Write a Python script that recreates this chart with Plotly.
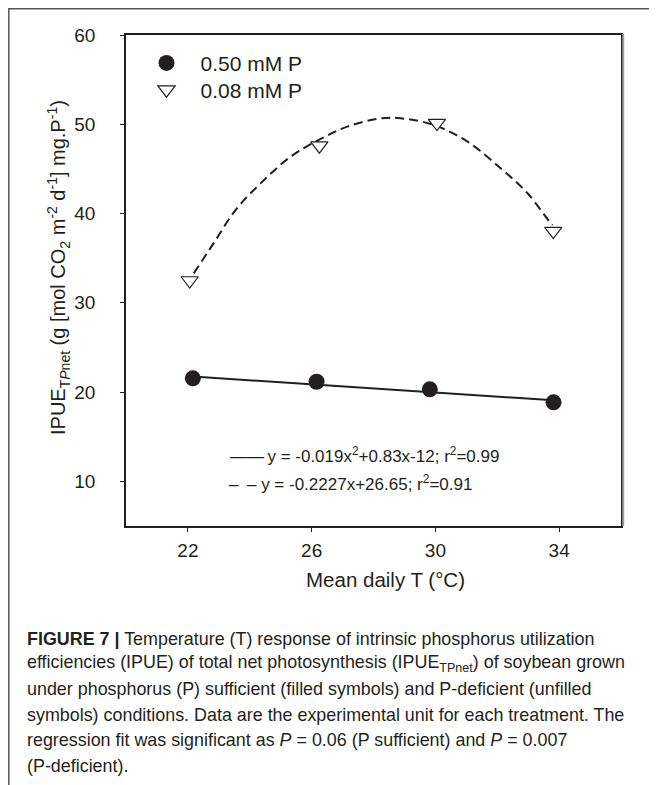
import plotly.graph_objects as go

# ---- data ----
temp_p050 = [22.16, 26.16, 29.82, 33.82]
ipue_p050 = [21.54, 21.16, 20.31, 18.85]

temp_p008 = [22.06, 26.25, 30.05, 33.81]
ipue_p008 = [32.5, 47.6, 50.13, 38.03]

# regression curves as drawn in the figure
fit_p050_x = [22.16, 33.82]
fit_p050_y = [21.75, 19.08]
fit_p008_x = [22.19, 22.83, 23.54, 24.35, 25.32, 26.23, 27.15, 28.23, 28.88,
              29.95, 31.04, 32.11, 32.98, 33.73, 33.79]
fit_p008_y = [33.30, 36.66, 40.39, 43.38, 46.37, 48.24, 49.73, 50.67, 50.67,
              49.92, 48.05, 45.07, 42.27, 38.91, 38.72]

x_ticks = [22, 26, 30, 34]
y_ticks = [10, 20, 30, 40, 50, 60]
series_names = ["0.50 mM P", "0.08 mM P"]

eq_solid = "y = -0.019x<sup>2</sup>+0.83x-12; r<sup>2</sup>=0.99"
eq_dash = "y = -0.2227x+26.65; r<sup>2</sup>=0.91"

x_title = "Mean daily T (°C)"
y_title = ("IPUE<sub>T<i>P</i>net</sub> (g [mol CO<sub>2</sub> m<sup>-2</sup> "
           "d<sup>-1</sup>] mg.P<sup>-1</sup>)")

caption_lines = [
    "<b>FIGURE 7 |</b> Temperature (T) response of intrinsic phosphorus utilization",
    "efficiencies (IPUE) of total net photosynthesis (IPUE<sub>TPnet</sub>) of soybean grown",
    "under phosphorus (P) sufficient (filled symbols) and P-deficient (unfilled",
    "symbols) conditions. Data are the experimental unit for each treatment. The",
    "regression fit was significant as <i>P</i> = 0.06 (P sufficient) and <i>P</i> = 0.007",
    "(P-deficient).",
]

# ---- layout geometry (pixels) ----
OFF = 8                      # page body margin
W, H = 657 - OFF, 785 - OFF
L, T = 126 - OFF, 35 - OFF
R = W - (621 - OFF)
B = H - (526 - OFF)
PW, PH = W - L - R, H - T - B


def px(xw):
    """window x pixel -> paper coordinate"""
    return (xw - OFF - L) / PW


def py(yw):
    """window y pixel -> paper coordinate"""
    return (H - B - (yw - OFF)) / PH


FONT = "Liberation Sans, Arial, Helvetica, sans-serif"
INK = "#231f20"

fig = go.Figure()

fig.add_trace(go.Scatter(
    x=fit_p050_x, y=fit_p050_y, mode="lines", showlegend=False,
    line=dict(color=INK, width=2), hoverinfo="skip"))
fig.add_trace(go.Scatter(
    x=fit_p008_x, y=fit_p008_y, mode="lines", showlegend=False,
    line=dict(color=INK, width=2, dash="9px,5px", shape="spline", smoothing=1.0),
    hoverinfo="skip"))

fig.add_trace(go.Scatter(
    x=temp_p050, y=ipue_p050, mode="markers", name=series_names[0], legend="legend",
    marker=dict(symbol="circle", size=16, color=INK, line=dict(width=0))))
fig.add_trace(go.Scatter(
    x=temp_p008, y=ipue_p008, mode="markers", name=series_names[1], legend="legend2",
    marker=dict(symbol="triangle-down", size=15, color="white",
                line=dict(color=INK, width=1.2))))

axis_common = dict(
    showgrid=False, zeroline=False, showline=True, linecolor=INK, linewidth=1.8,
    mirror=True, ticks="outside", ticklen=4, tickwidth=1.2, tickcolor=INK,
    tickfont=dict(family=FONT, size=19, color=INK),
)

fig.update_xaxes(range=[20, 36], tickvals=x_ticks, ticklabelstandoff=2, **axis_common)
fig.update_yaxes(range=[5, 60], tickvals=y_ticks, ticklabelstandoff=21, **axis_common)

annotations = [
    dict(text=x_title, x=px(385), y=py(579), xref="paper", yref="paper",
         showarrow=False, font=dict(family=FONT, size=20.5, color=INK),
         xanchor="center", yanchor="middle"),
    dict(text=y_title, x=px(58), y=py(268), xref="paper", yref="paper",
         showarrow=False, textangle=-90, font=dict(family=FONT, size=20, color=INK),
         xanchor="center", yanchor="middle"),
    dict(text="\u2014\u2014\u2009" + eq_solid, x=px(228), y=py(455), xref="paper", yref="paper",
         showarrow=False, font=dict(family=FONT, size=17, color=INK),
         xanchor="left", yanchor="middle"),
    dict(text="\u2013\u2002\u2013 " + eq_dash, x=px(227), y=py(483), xref="paper", yref="paper",
         showarrow=False, font=dict(family=FONT, size=17, color=INK),
         xanchor="left", yanchor="middle"),
]

cap_y0, cap_dy = 638.5, 25.4
for i, line in enumerate(caption_lines):
    annotations.append(dict(
        text=line, x=px(25), y=py(cap_y0 + i * cap_dy), xref="paper", yref="paper",
        showarrow=False, font=dict(family=FONT, size=17.9, color=INK),
        xanchor="left", yanchor="middle", align="left"))

shapes = [
    # outer figure frame (continues past the right and bottom edges)
    dict(type="rect", xref="paper", yref="paper",
         x0=px(8.8), x1=px(720), y0=py(840), y1=py(8.8),
         line=dict(color="#555555", width=1.5), fillcolor="rgba(0,0,0,0)", layer="below"),
    # grey drop shadow along the right side of the plot frame
    dict(type="line", xref="paper", yref="paper", xsizemode="pixel", xanchor=1,
         x0=2.2, x1=2.2, y0=py(526), y1=py(34),
         line=dict(color="#9a9a9a", width=2)),
]

legend_common = dict(
    xanchor="left", yanchor="middle",
    font=dict(family=FONT, size=21, color=INK),
    bgcolor="rgba(0,0,0,0)", borderwidth=0, itemwidth=58, tracegroupgap=0,
)

fig.update_layout(
    width=W, height=H,
    margin=dict(l=L, r=R, t=T, b=B, pad=0),
    paper_bgcolor="white", plot_bgcolor="white",
    showlegend=True,
    legend=dict(x=px(132.5), y=py(63.3), **legend_common),
    legend2=dict(x=px(132.5), y=py(90), **legend_common),
    annotations=annotations,
    shapes=shapes,
    font=dict(family=FONT, color=INK),
)

fig.write_html("out.html")
